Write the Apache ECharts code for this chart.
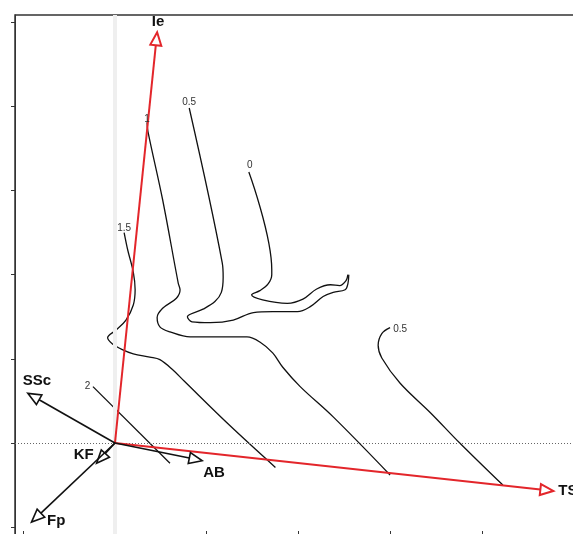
<!DOCTYPE html>
<html>
<head>
<meta charset="utf-8">
<script src="https://cdn.jsdelivr.net/npm/echarts@6/dist/echarts.min.js"></script>
<style>
  html, body { margin: 0; padding: 0; background: #fff; }
  #chart { width: 573px; height: 534px; }
</style>
</head>
<body>
<div id="chart"></div>
<script>
// ---- tick values ----
const xTicks = [-1, 0, 1, 2, 3, 4, 5];
const yTicks = [-1, 0, 1, 2, 3, 4, 5];

// ---- contour lines (in axis units) ----
const c15X = [0.10, 0.14, 0.20, 0.22, 0.20, 0.12, 0.01, -0.08, -0.03, 0.08, 0.20, 0.38, 0.49, 0.63, 0.76, 1.25, 1.75];
const c15Y = [2.50, 2.29, 2.03, 1.82, 1.64, 1.46, 1.34, 1.25, 1.18, 1.11, 1.06, 1.02, 0.99, 0.87, 0.73, 0.21, -0.29];

const c1X = [0.35, 0.36, 0.52, 0.69, 0.71, 0.67, 0.52, 0.46, 0.49, 0.60, 0.82, 1.44, 1.58, 1.72, 1.83, 2.02, 2.38, 3.00];
const c1Y = [3.81, 3.70, 2.89, 1.90, 1.82, 1.72, 1.60, 1.49, 1.38, 1.32, 1.26, 1.26, 1.20, 1.07, 0.90, 0.67, 0.31, -0.38];

const c05aX = [0.81, 1.17, 1.18, 1.16, 1.09, 0.96, 0.79, 0.84, 1.04, 1.29, 1.51, 1.72, 1.99, 2.13, 2.27, 2.38, 2.51, 2.54, 2.55];
const c05aY = [3.98, 2.14, 1.97, 1.79, 1.68, 1.59, 1.50, 1.44, 1.43, 1.46, 1.55, 1.56, 1.56, 1.62, 1.74, 1.79, 1.82, 1.89, 2.00];

const c0X = [1.46, 1.71, 1.71, 1.67, 1.58, 1.49, 1.61, 1.88, 2.05, 2.20, 2.35, 2.45, 2.52, 2.54];
const c0Y = [3.22, 2.06, 2.00, 1.89, 1.81, 1.76, 1.70, 1.66, 1.71, 1.83, 1.88, 1.87, 1.93, 2.00];

const c05bX = [3.00, 2.91, 2.87, 2.91, 3.11, 3.44, 3.76, 4.23];
const c05bY = [1.37, 1.30, 1.16, 1.01, 0.71, 0.36, 0.00, -0.50];

const c2X = [-0.24, 0.60];
const c2Y = [0.67, -0.24];

// ---- contour labels ----
const contourLabels = ['1.5', '1', '0.5', '0', '0.5', '2'];
const contourLabelX = [0.10, 0.35, 0.81, 1.47, 3.11, -0.30];
const contourLabelY = [2.55, 3.85, 4.05, 3.30, 1.35, 0.68];

// ---- biplot arrows (tips, from origin) ----
const redNames = ['Ie', 'TS'];
const redTipX = [0.46, 4.78];
const redTipY = [4.88, -0.57];
const redLabelX = [0.47, 4.94];
const redLabelY = [5.00, -0.57];

const blackNames = ['SSc', 'AB', 'KF', 'Fp'];
const blackTipX = [-0.95, 0.95, -0.20, -0.91];
const blackTipY = [0.59, -0.21, -0.24, -0.94];
const blackLabelX = [-0.85, 1.08, -0.34, -0.64];
const blackLabelY = [0.74, -0.35, -0.14, -0.92];

function zip(xs, ys) { return xs.map((x, i) => [x, ys[i]]); }

const contours = [
  zip(c15X, c15Y), zip(c1X, c1Y), zip(c05aX, c05aY),
  zip(c0X, c0Y), zip(c05bX, c05bY), zip(c2X, c2Y)
];

const FONT = "'Liberation Sans', Arial, sans-serif";

function arrowRender(color, width) {
  return function (params, api) {
    const p0 = api.coord([0, 0]);
    const p1 = api.coord([api.value(0), api.value(1)]);
    const dx = p1[0] - p0[0], dy = p1[1] - p0[1];
    const len = Math.sqrt(dx * dx + dy * dy);
    const ux = dx / len, uy = dy / len;
    const hl = 13, hw = 5.5;
    const bx = p1[0] - ux * hl, by = p1[1] - uy * hl;
    const tri = [
      [p1[0], p1[1]],
      [bx - uy * hw, by + ux * hw],
      [bx + uy * hw, by - ux * hw]
    ];
    return {
      type: 'group',
      children: [
        { type: 'line', shape: { x1: p0[0], y1: p0[1], x2: bx, y2: by },
          style: { stroke: color, lineWidth: width } },
        { type: 'polygon', shape: { points: tri },
          style: { fill: '#fff', stroke: color, lineWidth: width } }
      ]
    };
  };
}

function textRender(fontSize, weight, color, align) {
  return function (params, api) {
    const p = api.coord([api.value(0), api.value(1)]);
    return {
      type: 'text',
      x: p[0], y: p[1],
      style: {
        text: api.value(2),
        fill: color,
        font: weight + ' ' + fontSize + 'px ' + FONT,
        align: align,
        verticalAlign: 'middle'
      }
    };
  };
}

const series = [];
series.push({
  type: 'line', data: [], z: 1, silent: true,
  markLine: {
    silent: true, symbol: 'none', label: { show: false },
    animation: false,
    data: [
      { yAxis: 0, lineStyle: { color: '#666', type: [1, 2], width: 1 } },
      { xAxis: 0, lineStyle: { color: '#efefef', type: 'solid', width: 4 } }
    ]
  }
});
contours.forEach(function (pts) {
  series.push({
    type: 'line', data: pts, showSymbol: false, smooth: 0.35,
    z: 3, silent: true,
    lineStyle: { color: '#111', width: 1.3 }
  });
});
series.push({
  type: 'custom', z: 5, silent: true,
  renderItem: arrowRender('#e3262b', 2),
  data: zip(redTipX, redTipY)
});
series.push({
  type: 'custom', z: 5, silent: true,
  renderItem: arrowRender('#111', 1.6),
  data: zip(blackTipX, blackTipY)
});
series.push({
  type: 'custom', z: 6, silent: true,
  renderItem: textRender(10, 'normal', '#333', 'center'),
  data: contourLabels.map((t, i) => [contourLabelX[i], contourLabelY[i], t])
});
series.push({
  type: 'custom', z: 6, silent: true,
  renderItem: textRender(15, 'bold', '#111', 'center'),
  data: redNames.map((t, i) => [redLabelX[i], redLabelY[i], t])
    .concat(blackNames.map((t, i) => [blackLabelX[i], blackLabelY[i], t]))
});

const chart = echarts.init(document.getElementById('chart'), null, { renderer: 'canvas' });
chart.setOption({
  animation: false,
  backgroundColor: '#fff',
  grid: {
    left: 15, top: 15, width: 600, height: 521,
    outerBoundsMode: 'none', containLabel: false,
    show: true, borderColor: '#333', borderWidth: 1.5, backgroundColor: 'transparent'
  },
  xAxis: {
    type: 'value', min: -1.09, max: 5.453,
    axisLine: { show: false, onZero: false },
    axisTick: { show: true, inside: true, length: 5, customValues: xTicks,
                lineStyle: { color: '#333' } },
    axisLabel: { show: false },
    splitLine: { show: false }
  },
  yAxis: {
    type: 'value', min: -1.105, max: 5.085,
    axisLine: { show: true, onZero: false, lineStyle: { color: '#333', width: 1 } },
    axisTick: { show: true, inside: false, length: 4, customValues: yTicks,
                lineStyle: { color: '#333' } },
    axisLabel: { show: false },
    splitLine: { show: false }
  },
  series: series
});
</script>
</body>
</html>
